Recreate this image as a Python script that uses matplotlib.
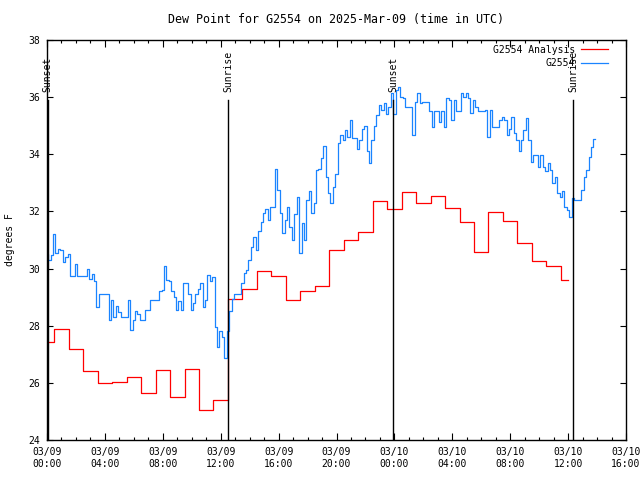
import numpy as np
import matplotlib
matplotlib.use("Agg")
import matplotlib.pyplot as plt
from matplotlib.ticker import MultipleLocator, FixedLocator

plt.rcParams['font.family'] = ['DejaVu Sans Mono']
plt.rcParams['font.size'] = 7

# hours since 2025-03-09 00:00 UTC
tick_hours = [0, 4, 8, 12, 16, 20, 24, 28, 32, 36, 40]
tick_labels = ["03/09\n00:00", "03/09\n04:00", "03/09\n08:00", "03/09\n12:00",
               "03/09\n16:00", "03/09\n20:00", "03/10\n00:00", "03/10\n04:00",
               "03/10\n08:00", "03/10\n12:00", "03/10\n16:00"]

# hourly analysis values
analysis = [27.42, 27.87, 27.2, 26.4, 25.98, 26.02, 26.2, 25.63, 26.45, 25.5,
            26.48, 25.04, 25.39, 28.92, 29.27, 29.9, 29.74, 28.89, 29.2, 29.39,
            30.64, 31.0, 31.27, 32.35, 32.07, 32.67, 32.28, 32.54, 32.11, 31.62,
            30.57, 31.97, 31.65, 30.89, 30.26, 30.08, 29.6]

# station obs, one row per hour, every 10 min
obs = [
    [30.5, 30.3, 30.47, 31.2, 30.55, 30.7],
    [30.65, 30.24, 30.4, 30.5, 29.74, 29.74],
    [30.16, 29.74, 29.74, 29.74, 29.74, 30.0],
    [29.62, 29.8, 29.58, 28.67, 29.1, 29.1],
    [29.1, 29.1, 28.2, 28.9, 28.3, 28.7],
    [28.49, 28.3, 28.3, 28.3, 28.9, 27.85],
    [28.2, 28.5, 28.4, 28.2, 28.2, 28.55],
    [28.55, 28.9, 28.9, 28.9, 28.9, 29.2],
    [29.25, 30.1, 29.6, 29.55, 29.2, 29.0],
    [28.55, 28.85, 28.55, 29.5, 29.5, 29.1],
    [28.55, 28.8, 29.1, 29.3, 29.48, 28.67],
    [28.9, 29.77, 29.55, 29.7, 27.97, 27.27],
    [27.8, 27.6, 26.86, 27.8, 28.5, 28.92],
    [29.1, 29.1, 29.1, 29.5, 29.83, 29.95],
    [30.3, 30.77, 31.1, 30.65, 31.3, 31.64],
    [31.93, 32.1, 31.7, 32.17, 32.17, 33.5],
    [32.75, 31.93, 31.23, 31.7, 32.17, 31.47],
    [31.0, 31.9, 32.5, 30.53, 31.58, 31.0],
    [32.4, 32.7, 31.93, 32.3, 33.45, 33.5],
    [33.86, 34.3, 33.2, 32.63, 32.3, 32.85],
    [33.3, 34.38, 34.67, 34.5, 34.85, 34.6],
    [35.2, 34.56, 34.56, 34.2, 34.5, 34.9],
    [35.0, 34.1, 33.68, 34.5, 35.0, 35.38],
    [35.72, 35.55, 35.8, 35.4, 35.67, 36.13],
    [35.4, 36.25, 36.37, 36.0, 35.96, 35.67],
    [35.67, 35.67, 34.67, 35.84, 36.13, 35.78],
    [35.84, 35.84, 35.84, 35.5, 34.97, 35.5],
    [35.5, 35.14, 35.5, 34.97, 35.96, 35.9],
    [35.2, 35.9, 35.5, 35.5, 36.13, 36.0],
    [36.13, 35.96, 35.43, 35.9, 35.67, 35.5],
    [35.5, 35.5, 35.55, 34.6, 35.55, 34.97],
    [34.97, 34.97, 35.2, 35.3, 35.2, 34.67],
    [34.9, 35.3, 34.73, 34.5, 34.1, 34.5],
    [34.85, 35.26, 34.5, 33.74, 33.97, 33.97],
    [33.57, 33.97, 33.57, 33.4, 33.68, 33.45],
    [32.98, 33.2, 32.63, 32.52, 32.7, 32.17],
    [32.05, 31.82, 32.46, 32.4, 32.4, 32.4],
    [32.75, 33.2, 33.45, 33.9, 34.27, 34.55],
]

sun_names = ["Sunset", "Sunrise", "Sunset", "Sunrise"]
sun_hours = [0.05, 12.53, 23.93, 36.36]

obs_vals = np.array(obs).ravel()
obs_t = np.arange(len(obs_vals)) / 6.0
ana_t = np.arange(len(analysis))

fig = plt.figure(figsize=(6.4, 4.8), dpi=100)
ax = fig.add_axes([47/640, 40/480, 579/640, 400/480])

ax.plot(ana_t, analysis, drawstyle='steps-mid', color='#ff0000', lw=0.9, label='G2554 Analysis')
ax.plot(obs_t, obs_vals, drawstyle='steps-mid', color='#1a84ff', lw=0.9, label='G2554')

for name, h in zip(sun_names, sun_hours):
    ax.axvline(h, ymin=0, ymax=0.85, color='black', lw=1.0)
    ax.text(h, 0.87, name, rotation=90, ha='center', va='bottom',
            transform=ax.get_xaxis_transform())

ax.set_xlim(0, 40)
ax.set_ylim(24, 38)
ax.xaxis.set_major_locator(FixedLocator(tick_hours))
ax.set_xticklabels(tick_labels)
ax.xaxis.set_minor_locator(MultipleLocator(1))
ax.yaxis.set_major_locator(MultipleLocator(2))
ax.tick_params(which='both', direction='in', top=True, right=True, width=0.8)
ax.tick_params(axis='x', which='major', length=5, pad=5)
ax.tick_params(axis='x', which='minor', length=2.5)
ax.tick_params(axis='y', length=4, pad=5)
for s in ax.spines.values():
    s.set_linewidth(1.0)

ax.set_title("Dew Point for G2554 on 2025-Mar-09 (time in UTC)", pad=12)
ax.set_ylabel("degrees F")
ax.yaxis.set_label_coords(-0.055, 0.5)

ax.legend(loc='upper right', bbox_to_anchor=(0.978, 1.0), frameon=False,
          markerfirst=False, handlelength=2.8, handletextpad=0.6,
          labelspacing=0.35, borderaxespad=0.1)

fig.savefig("out.png", dpi=100)
